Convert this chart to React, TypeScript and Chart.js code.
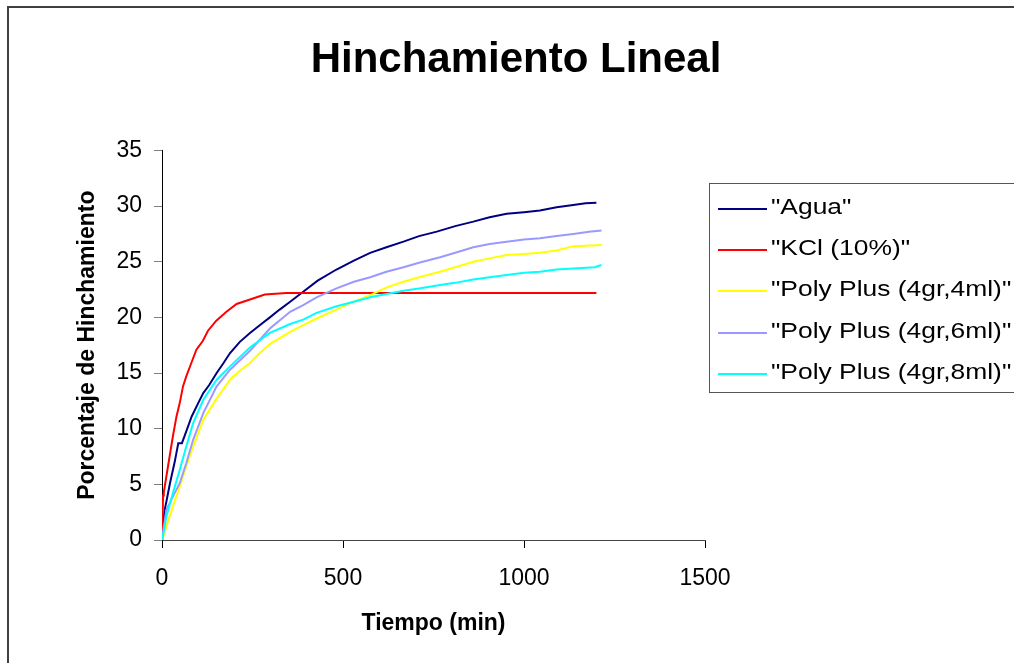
import React, { useEffect, useRef } from "react";
import { Chart, registerables } from "chart.js";

Chart.register(...registerables);

// Swelling measurements: time in minutes, linear swelling in percent
const aguaTime = [0, 3, 8, 13, 22, 35, 45, 55, 62, 82, 100, 114, 130, 151, 170, 188, 215, 243, 270, 298, 325, 354, 390, 430, 482, 530, 575, 620, 667, 710, 759, 810, 860, 905, 952, 1000, 1044, 1090, 1136, 1170, 1200];
const aguaValue = [0, 1.5, 2.8, 3.6, 5.1, 7.0, 8.7, 8.7, 9.3, 11.1, 12.3, 13.2, 13.9, 15.0, 15.9, 16.8, 17.8, 18.6, 19.3, 20.0, 20.7, 21.4, 22.3, 23.3, 24.3, 25.1, 25.8, 26.3, 26.8, 27.3, 27.7, 28.2, 28.6, 29.0, 29.3, 29.45, 29.6, 29.9, 30.1, 30.25, 30.3];

const kclTime = [0, 1, 3, 5, 12, 21, 30, 40, 49, 58, 67, 81, 95, 113, 127, 150, 178, 206, 243, 284, 344, 1200];
const kclValue = [0, 1.5, 4.0, 4.3, 5.7, 7.5, 9.3, 11.1, 12.3, 13.8, 14.7, 15.9, 17.1, 17.9, 18.8, 19.7, 20.5, 21.2, 21.6, 22.05, 22.2, 22.2];

const poly4Time = [0, 5, 12, 30, 49, 67, 86, 114, 151, 188, 215, 243, 270, 298, 354, 390, 427, 482, 520, 575, 621, 667, 710, 768, 810, 860, 905, 952, 1000, 1044, 1090, 1136, 1214];
const poly4Value = [0, 0.5, 1.2, 3.0, 4.8, 6.6, 8.4, 10.8, 12.7, 14.4, 15.2, 15.9, 16.8, 17.6, 18.7, 19.3, 19.9, 20.7, 21.3, 22.0, 22.7, 23.2, 23.6, 24.1, 24.5, 25.0, 25.3, 25.6, 25.7, 25.8, 26.0, 26.4, 26.5];

const poly6Time = [0, 5, 12, 30, 49, 67, 86, 114, 151, 188, 243, 298, 354, 390, 427, 482, 530, 575, 620, 667, 710, 768, 810, 860, 905, 952, 1000, 1044, 1090, 1136, 1180, 1214];
const poly6Value = [0, 1.2, 2.7, 3.9, 5.1, 6.9, 9.0, 11.4, 13.8, 15.3, 17.0, 19.0, 20.5, 21.1, 21.8, 22.6, 23.2, 23.6, 24.1, 24.5, 24.9, 25.4, 25.8, 26.3, 26.6, 26.8, 27.0, 27.1, 27.3, 27.5, 27.7, 27.8];

const poly8Time = [0, 5, 12, 30, 49, 67, 86, 114, 151, 188, 243, 298, 354, 390, 427, 482, 530, 575, 620, 667, 710, 768, 810, 860, 905, 952, 1000, 1044, 1090, 1136, 1195, 1214];
const poly8Value = [0, 0.8, 2.1, 4.2, 6.3, 8.4, 10.5, 12.6, 14.4, 15.6, 17.3, 18.6, 19.4, 19.8, 20.4, 21.0, 21.4, 21.8, 22.1, 22.4, 22.6, 22.9, 23.1, 23.4, 23.6, 23.8, 24.0, 24.1, 24.3, 24.4, 24.5, 24.7];

const seriesLabels = ['"Agua"', '"KCl (10%)"', '"Poly Plus (4gr,4ml)"', '"Poly Plus (4gr,6ml)"', '"Poly Plus (4gr,8ml)"'];
const seriesColors = ["#000080", "#FF0000", "#FFFF00", "#9999FF", "#00FFFF"];

const yTicks = [0, 5, 10, 15, 20, 25, 30, 35];
const xTicks = [0, 500, 1000, 1500];

const FONT = "'Liberation Sans', Arial, sans-serif";

function pairs(t: number[], v: number[]) {
  return t.map((x, i) => ({ x, y: v[i] }));
}

// Frame around the whole chart
const framePlugin = {
  id: "frame",
  afterDraw(chart: any) {
    const ctx = chart.ctx;
    ctx.save();
    ctx.strokeStyle = "#404040";
    ctx.lineWidth = 2;
    ctx.strokeRect(8, 7, chart.width + 20, chart.height + 20);
    ctx.restore();
  },
};

// Boxed legend on the right-hand side
const boxLegendPlugin = {
  id: "boxLegend",
  afterDraw(chart: any) {
    const ctx = chart.ctx;
    const left = 709.5;
    const top = 183.5;
    const bottom = 392.5;
    ctx.save();
    ctx.strokeStyle = "#555555";
    ctx.lineWidth = 1;
    ctx.strokeRect(left, top, chart.width + 20 - left, bottom - top);
    const rowStart = 208.5;
    const rowStep = 41.4;
    chart.data.datasets.forEach((ds: any, i: number) => {
      const y = Math.round(rowStart + i * rowStep);
      ctx.strokeStyle = ds.borderColor;
      ctx.lineWidth = 2;
      ctx.beginPath();
      ctx.moveTo(718, y);
      ctx.lineTo(767, y);
      ctx.stroke();
      ctx.save();
      ctx.translate(771, y - 1.5);
      ctx.scale(1.2, 1);
      ctx.fillStyle = "#000";
      ctx.font = `22px ${FONT}`;
      ctx.textBaseline = "middle";
      ctx.textAlign = "left";
      ctx.fillText(ds.label, 0, 0);
      ctx.restore();
    });
    ctx.restore();
  },
};

export default function App() {
  const canvasRef = useRef<HTMLCanvasElement | null>(null);

  useEffect(() => {
    if (!canvasRef.current) return;
    Chart.defaults.font.family = FONT;
    Chart.defaults.color = "#000";

    const times = [aguaTime, kclTime, poly4Time, poly6Time, poly8Time];
    const values = [aguaValue, kclValue, poly4Value, poly6Value, poly8Value];

    const chart = new Chart(canvasRef.current, {
      type: "line",
      data: {
        datasets: seriesLabels.map((label, i) => ({
          label,
          data: pairs(times[i], values[i]),
          borderColor: seriesColors[i],
          backgroundColor: seriesColors[i],
          borderWidth: 2,
          pointRadius: 0,
          tension: 0,
          fill: false,
          order: seriesLabels.length - i,
        })),
      },
      options: {
        animation: false,
        responsive: false,
        maintainAspectRatio: false,
        events: [],
        layout: { padding: { left: 18, right: 0, top: 0, bottom: 0 } },
        plugins: {
          legend: { display: false },
          tooltip: { enabled: false },
          title: {
            display: true,
            text: "Hinchamiento Lineal",
            color: "#000",
            font: { size: 42, weight: "bold", family: FONT },
            padding: { top: 35, bottom: 65 },
          },
        },
        scales: {
          x: {
            type: "linear",
            min: 0,
            max: 1500,
            afterBuildTicks: (s: any) => {
              s.ticks = xTicks.map((v) => ({ value: v }));
            },
            afterFit: (s: any) => {
              s.height = 123;
            },
            ticks: {
              font: { size: 23 },
              color: "#000",
              padding: 17,
              maxRotation: 0,
              callback: (v: any) => String(v),
            },
            grid: { display: true, drawOnChartArea: false, drawTicks: true, tickLength: 8, tickColor: "#000", color: "#000" },
            border: { display: true, color: "#444", width: 1 },
            title: {
              display: true,
              text: "Tiempo (min)",
              color: "#000",
              font: { size: 23, weight: "bold" },
              padding: { top: 0, bottom: 26 },
            },
          },
          y: {
            type: "linear",
            position: "left",
            min: 0,
            max: 35,
            afterBuildTicks: (s: any) => {
              s.ticks = yTicks.map((v) => ({ value: v }));
            },
            afterFit: (s: any) => {
              s.width = 144;
            },
            ticks: { font: { size: 23 }, color: "#000", padding: 12, callback: (v: any) => String(v) },
            grid: { display: true, drawOnChartArea: false, drawTicks: true, tickLength: 8, tickColor: "#808080", color: "#808080" },
            border: { display: true, color: "#000", width: 1 },
            title: {
              display: true,
              text: "Porcentaje de Hinchamiento",
              color: "#000",
              font: { size: 23, weight: "bold" },
              padding: { top: 56, bottom: 0 },
            },
          },
          legendSpace: {
            type: "linear",
            position: "right",
            display: true,
            afterFit: (s: any) => {
              s.width = 309;
            },
            ticks: { display: false },
            grid: { display: false },
            border: { display: false },
          },
        },
      },
      plugins: [framePlugin, boxLegendPlugin],
    } as any);

    return () => chart.destroy();
  }, []);

  return (
    <div style={{ position: "fixed", left: 0, top: 0, width: 1014, height: 663, background: "#fff" }}>
      <canvas ref={canvasRef} width={1014} height={663} style={{ display: "block", width: 1014, height: 663 }} />
    </div>
  );
}
